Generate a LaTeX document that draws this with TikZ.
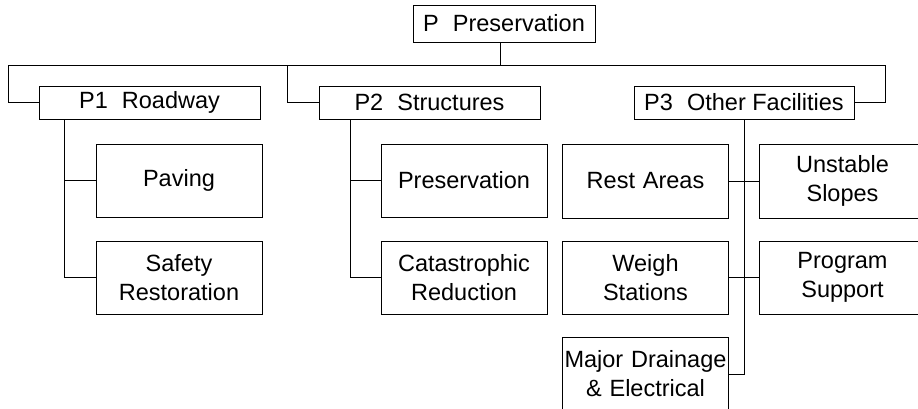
\documentclass[tikz,border=0pt]{standalone}
\usepackage{fontspec}
\setmainfont{Liberation Sans}
\usepackage{tikz}
\usetikzlibrary{positioning}

\tikzset{
	head/.style = {draw, minimum width = 221pt, minimum height = 33pt, inner sep = 0pt},
	leaf/.style = {draw, text width = 166pt, minimum height = 73pt, inner sep = 0pt, align = center},
	link/.style = {line width = 0.8pt}
}

\begin{document}
\begin{tikzpicture}[x = 1pt, y = -1pt, font = \fontsize{23.5}{29}\selectfont, line width = 0.8pt]
			\clip (0,0) rectangle (918,408);
			
			\node[draw, minimum width = 182pt, minimum height = 37pt, inner sep = 0pt] (top) at (504,23.5) {P\hspace{0.6em}Preservation};
			
			\node[head] (p1) at (149.5,102.5) {P1\hspace{0.6em}Roadway};
			\node[head] (p2) at (429.5,102.5) {P2\hspace{0.6em}Structures};
			\node[head, minimum width = 220pt] (p3) at (744,102.5) {P3\hspace{0.6em}Other Facilities};
			
			\node[leaf] (paving) at (179,180.5) {Paving};
			\node[leaf] (safety) at (179,277.5) {Safety\\Restoration};
			
			\node[leaf] (pres) at (464,180.5) {Preservation};
			\node[leaf] (cata) at (464,277.5) {Catastrophic\\Reduction};
			
			\node[leaf, minimum height = 74pt] (rest) at (645.5,181) {Rest Areas};
			\node[leaf, minimum height = 74pt] (unst) at (842.5,181) {Unstable\\Slopes};
			\node[leaf] (weigh) at (645.5,277.5) {Weigh\\Stations};
			\node[leaf] (prog) at (842.5,277.5) {Program\\Support};
			\node[leaf, minimum height = 74pt] (major) at (645.5,374) {Major Drainage\\\& Electrical};
			
			\coordinate (busl) at (8,65);
			\coordinate (busm) at (287,65);
			\coordinate (bust) at (500,65);
			\coordinate (busr) at (885,65);
			
			\draw[link] (busl) -- (busr);
			\draw[link] (bust) -- (bust |- top.south);
			\draw[link] (busl) |- (p1.west);
			\draw[link] (busm) |- (p2.west);
			\draw[link] (busr) |- (p3.east);
			
			\draw[link] (p1.south -| 64,0) |- (safety.west);
			\draw[link] (paving.west) -- (paving.west -| 64,0);
			
			\draw[link] (p2.south -| 350,0) |- (cata.west);
			\draw[link] (pres.west) -- (pres.west -| 350,0);
			
			\draw[link] (p3.south) |- (major.east);
			\draw[link] (rest.east) -- (unst.west);
			\draw[link] (weigh.east) -- (prog.west);
			
			\end{tikzpicture}
\end{document}
